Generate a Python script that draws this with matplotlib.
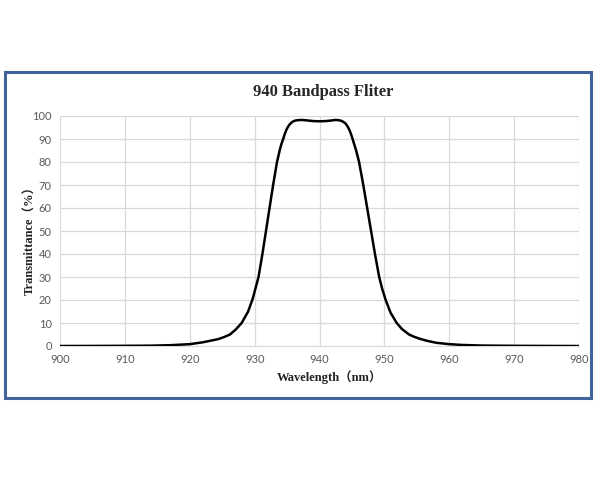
import matplotlib
matplotlib.use("Agg")
import matplotlib.pyplot as plt
from matplotlib.patches import Rectangle

# values
wavelength = [900, 905, 910, 914, 917, 920, 922, 924.4, 925.3, 926.2, 927.1,
              928.0, 929.0, 929.7, 930.6, 931.2, 931.75, 932.3, 932.85,
              933.45, 933.9, 934.15, 934.4, 934.65, 934.9, 935.1, 935.3,
              935.55, 935.8, 936.1, 936.4, 937.2, 938, 939, 940, 941, 942,
              942.5, 943.1, 943.4, 943.7, 944.0, 944.2, 944.4, 944.6, 944.85,
              945.1, 945.65, 946.1, 946.75, 947.35, 947.95, 948.55, 949.2,
              949.65, 950.2, 950.95, 951.9, 952.7, 953.8, 954.6, 955.4,
              956.5, 958, 960, 962, 965, 970, 975, 980]
transmittance = [0.0, 0.03, 0.08, 0.15, 0.35, 0.8, 1.6, 3.0, 3.9, 5.0, 7.2,
                 10, 15.0, 20.5, 30, 40, 50, 60, 70,
                 80, 85.5, 88, 90, 92.2, 94, 95.1, 96,
                 96.8, 97.4, 97.85, 98.1, 98.3, 98.1, 97.8, 97.7, 97.8, 98.1,
                 98.3, 98.1, 97.85, 97.4, 96.8, 96.0, 95.1, 94, 92.2,
                 90, 85, 80, 70, 60, 50, 40, 30,
                 25, 20, 14.5, 10, 7.4, 5.0, 4.0, 3.2,
                 2.3, 1.4, 0.8, 0.45, 0.2, 0.08, 0.03, 0.0]

x_ticks = [900, 910, 920, 930, 940, 950, 960, 970, 980]
y_ticks = [0, 10, 20, 30, 40, 50, 60, 70, 80, 90, 100]

fig = plt.figure(figsize=(6, 5), dpi=100)
ax = fig.add_axes([0.1, 0.308, 0.865, 0.46])

ax.plot(wavelength, transmittance, color="black", lw=1.8, zorder=3,
        solid_joinstyle="round", solid_capstyle="round")

ax.set_xlim(900, 980)
ax.set_ylim(0, 100)
ax.set_xticks(x_ticks)
ax.set_yticks(y_ticks)
ax.grid(True, color="#d9d9d9", lw=0.9)
ax.set_axisbelow(True)
for side in ["left", "right", "top"]:
    ax.spines[side].set_visible(False)
ax.spines["bottom"].set_color("#d9d9d9")
ax.tick_params(length=0, labelsize=8, labelcolor="#595959", pad=6)
for lab in ax.get_xticklabels() + ax.get_yticklabels():
    lab.set_family("Lato")

serif = ["Liberation Serif", "Noto Sans CJK SC"]
ax.set_xlabel("Wavelength（nm）", family=serif, fontsize=9, fontweight="bold",
              color="#222222")
ax.set_ylabel("Transmittance（%）", family=serif, fontsize=9,
              fontweight="bold", color="#222222")
ax.xaxis.set_label_coords(0.52, -0.105)
ax.yaxis.set_label_coords(-0.045, 0.47)
fig.text(0.538, 0.817, "940 Bandpass Fliter", family="Liberation Serif",
         fontsize=12, fontweight="bold", color="#262626",
         ha="center", va="center")

# blue frame around the chart
frame = Rectangle((5 / 600, 1 - 398 / 500), 586 / 600, 326 / 500,
                  transform=fig.transFigure, fill=False,
                  edgecolor="#41659a", lw=2.2)
fig.patches.append(frame)

fig.savefig("out.png", dpi=100)
